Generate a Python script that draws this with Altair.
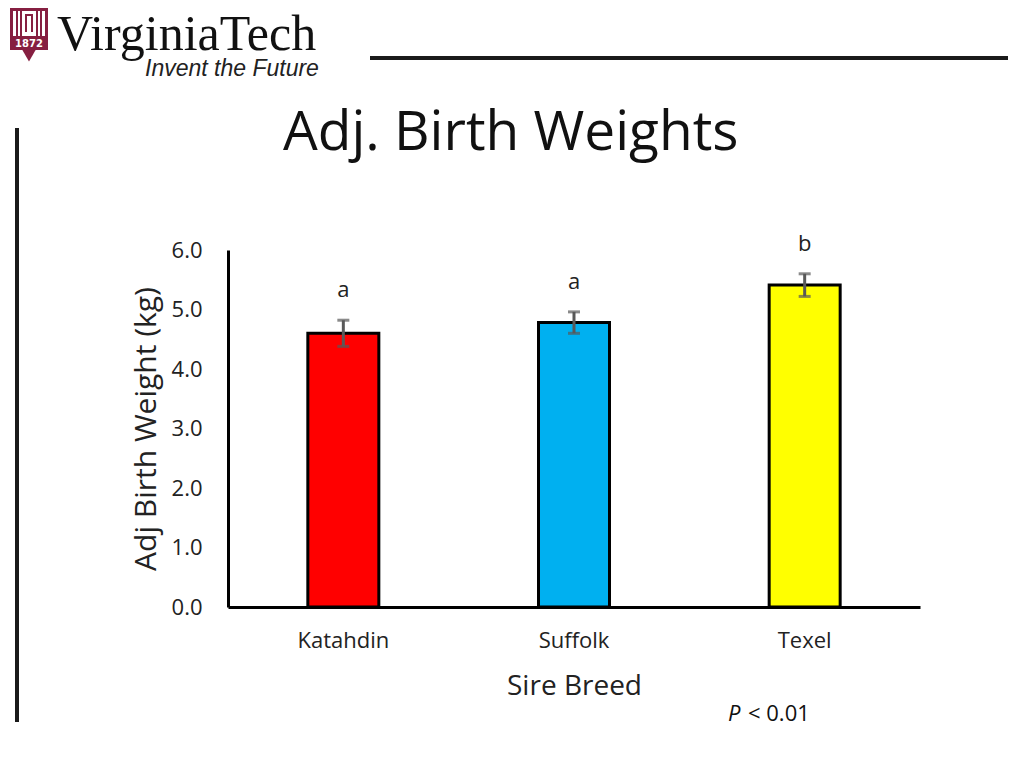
import altair as alt
import pandas as pd

breeds = ["Katahdin", "Suffolk", "Texel"]
weights = [4.60, 4.78, 5.41]
sem = [0.22, 0.18, 0.19]
letters = ["a", "a", "b"]
colors = ["#FF0000", "#00B0F0", "#FFFF00"]

df = pd.DataFrame({"breed": breeds, "weight": weights, "sem": sem, "letter": letters})
df["lo"] = df["weight"] - df["sem"]
df["hi"] = df["weight"] + df["sem"]

FONT = "Open Sans"
W, H = 692, 357

base = alt.Chart(df)
xenc = alt.X("breed:N", sort=breeds, title="Sire Breed",
             scale=alt.Scale(paddingInner=0.69, paddingOuter=0.345),
             axis=alt.Axis(labelAngle=0, labelFontSize=22, labelFont=FONT, labelColor="#222",
                           labelPadding=23, titleFontSize=28, titleFont=FONT, titleFontWeight="normal",
                           titleColor="#222", titlePadding=21, ticks=False, domainWidth=3,
                           domainColor="black"))
bars = base.mark_bar(size=71, stroke="black", strokeWidth=3).encode(
    x=xenc,
    y=alt.Y("weight:Q", scale=alt.Scale(domain=[0, 6]), title="Adj Birth Weight (kg)",
            axis=alt.Axis(values=[0, 1, 2, 3, 4, 5, 6], format=".1f", labelFontSize=22,
                          labelFont=FONT, labelColor="#222", labelPadding=26, ticks=False,
                          grid=False, domainWidth=3, domainColor="black", titleFontSize=30,
                          titleFont=FONT, titleFontWeight="normal", titleColor="#222",
                          titlePadding=10)),
    color=alt.Color("breed:N", scale=alt.Scale(domain=breeds, range=colors), legend=None),
)
err = base.mark_rule(strokeWidth=3, color="#595959").encode(
    x=alt.X("breed:N", sort=breeds), y="lo:Q", y2="hi:Q")
cap_lo = base.mark_tick(size=12, thickness=3, color="#595959", orient="horizontal").encode(
    x=alt.X("breed:N", sort=breeds), y="lo:Q")
cap_hi = base.mark_tick(size=12, thickness=3, color="#595959", orient="horizontal").encode(
    x=alt.X("breed:N", sort=breeds), y="hi:Q")
lbl = base.mark_text(fontSize=22, font=FONT, color="#222", dy=-30, baseline="middle").encode(
    x=alt.X("breed:N", sort=breeds), y="hi:Q", text="letter:N")

one = alt.Chart(pd.DataFrame({"k": [0]}))
ox, oy = 228, 250  # page origin of the plot area


def px(v):
    return alt.value(v - ox)


def py(v):
    return alt.value(v - oy)


MAROON = "#861F41"
shield = one.mark_rect(color=MAROON).encode(x=px(10), x2=px(48), y=py(8), y2=py(50))
shield_tip = one.mark_point(shape="triangle-down", filled=True, color=MAROON, size=700,
                            opacity=1).encode(x=px(29), y=py(50))
shield_win = one.mark_rect(color="white").encode(x=px(13), x2=px(45), y=py(11), y2=py(36))
stripes = [one.mark_rule(color=MAROON, strokeWidth=2).encode(x=px(sx), y=py(11), y2=py(36))
           for sx in (17, 21, 37, 41)]
arch = one.mark_rect(color=MAROON).encode(x=px(25), x2=px(33), y=py(14), y2=py(32))
arch_in = one.mark_rect(color="white").encode(x=px(27), x2=px(31), y=py(16), y2=py(32))
shield_txt = one.mark_text(text="1872", color="white", fontSize=10, font="DejaVu Sans",
                           fontWeight="bold").encode(x=px(29), y=py(44))
vt = one.mark_text(text="VirginiaTech", font="Liberation Serif", fontSize=50, align="left",
                   baseline="alphabetic", color="#111").encode(x=px(57), y=py(50))
tag = one.mark_text(text="Invent the Future", font="Liberation Sans", fontStyle="italic",
                    fontSize=23, align="left", baseline="alphabetic", color="#222").encode(
    x=px(145), y=py(76))
hline = one.mark_rule(strokeWidth=4, color="#1a1a1a").encode(x=px(370), x2=px(1008), y=py(58))
vline = one.mark_rule(strokeWidth=4, color="#1a1a1a").encode(x=px(17), y=py(128), y2=py(722))
title = one.mark_text(text="Adj. Birth Weights", font=FONT, fontSize=55, align="left",
                      baseline="middle", color="#111").encode(x=px(283), y=py(133))
p_it = one.mark_text(text="P", font=FONT, fontStyle="italic", fontSize=22, align="left",
                     baseline="middle", color="#111").encode(x=px(728), y=py(714))
p_rest = one.mark_text(text="< 0.01", font=FONT, fontSize=22, align="left",
                       baseline="middle", color="#111").encode(x=px(748), y=py(714))

chart = alt.layer(bars, err, cap_lo, cap_hi, lbl, shield, shield_tip, shield_win, *stripes,
                  arch, arch_in, shield_txt, vt, tag,
                  hline, vline, title, p_it, p_rest).properties(
    width=W, height=H,
    background="white",
    autosize=alt.AutoSizeParams(type="none"),
    padding={"left": 220, "top": 242, "right": 96, "bottom": 150},
).configure_view(stroke=None, strokeWidth=0)

chart.save("out.html", embed_options={"renderer": "svg", "actions": False})
